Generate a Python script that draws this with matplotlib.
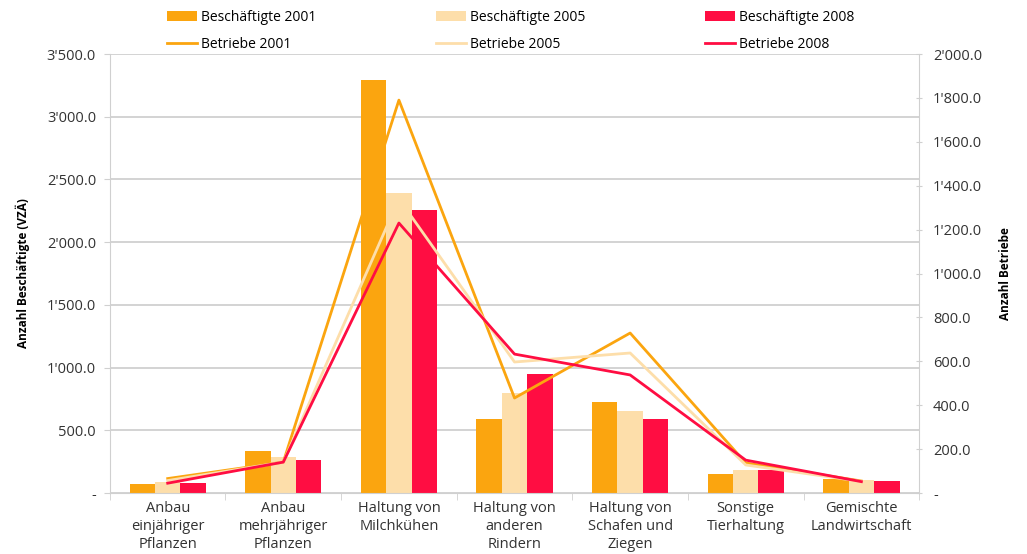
import numpy as np
import matplotlib.pyplot as plt
from matplotlib.ticker import FuncFormatter

plt.rcParams['font.family'] = ['Open Sans', 'DejaVu Sans']

categories = ['Anbau\neinjähriger\nPflanzen', 'Anbau\nmehrjähriger\nPflanzen', 'Haltung von\nMilchkühen',
              'Haltung von\nanderen\nRindern', 'Haltung von\nSchafen und\nZiegen', 'Sonstige\nTierhaltung',
              'Gemischte\nLandwirtschaft']

# Beschaeftigte (VZAe), linke Achse
besch_2001 = [72, 335, 3290, 590, 728, 149, 109]
besch_2005 = [90, 285, 2395, 795, 654, 183, 105]
besch_2008 = [82, 263, 2255, 950, 588, 183, 100]

# Betriebe, rechte Achse
betr_2001 = [66, 141, 1790, 433, 729, 137, 55]
betr_2005 = [57, 141, 1340, 597, 638, 128, 53]
betr_2008 = [45, 141, 1230, 633, 538, 150, 52]

c01 = '#FBA50F'
c05 = '#FDDEAA'
c08 = '#FF0D42'
grey = '#D0D0D0'

def fmt(v, pos):
    if abs(v) < 1e-9:
        return '-'
    return f'{v:,.1f}'.replace(',', "'")

fig = plt.figure(figsize=(10.27, 5.54), dpi=100)
ax = fig.add_axes([0.107, 0.11, 0.788, 0.7925])
ax2 = ax.twinx()

x = np.arange(len(categories))
w = 0.22
ax.bar(x - w, besch_2001, w, color=c01, label='Beschäftigte 2001', zorder=2)
ax.bar(x, besch_2005, w, color=c05, label='Beschäftigte 2005', zorder=2)
ax.bar(x + w, besch_2008, w, color=c08, label='Beschäftigte 2008', zorder=2)

ax2.plot(x, betr_2001, color=c01, lw=2, label='Betriebe 2001')
ax2.plot(x, betr_2005, color=c05, lw=2, label='Betriebe 2005')
ax2.plot(x, betr_2008, color=c08, lw=2, label='Betriebe 2008')

ax.set_xlim(-0.5, len(categories) - 0.5)
ax.set_ylim(0, 3500)
ax2.set_ylim(0, 2000)
ax.set_yticks(np.arange(0, 3501, 500))
ax2.set_yticks(np.arange(0, 2001, 200))
ax.yaxis.set_major_formatter(FuncFormatter(fmt))
ax2.yaxis.set_major_formatter(FuncFormatter(fmt))

ax.set_axisbelow(True)
ax.grid(axis='y', color=grey, lw=1.3)
ax.set_xticks(x)
ax.set_xticklabels(categories, fontsize=10.5, color='#333333', linespacing=1.25)
ax.tick_params(axis='x', length=0, pad=6)
ax.set_xticks(np.arange(-0.5, len(categories)), minor=True)
ax.tick_params(axis='x', which='minor', length=5, color=grey)

for a in (ax, ax2):
    for s in a.spines.values():
        s.set_visible(False)
ax.spines['left'].set_visible(True)
ax.spines['left'].set_color(grey)
ax.spines['bottom'].set_visible(True)
ax.spines['bottom'].set_color(grey)
ax2.spines['right'].set_visible(True)
ax2.spines['right'].set_color(grey)

ax.tick_params(axis='y', length=4, color=grey, labelsize=10.5, labelcolor='#333333', pad=6)
ax2.tick_params(axis='y', length=4, color=grey, labelsize=10.5, labelcolor='#333333', direction='inout', pad=8)

ax.set_ylabel('Anzahl Beschäftigte (VZÄ)', fontsize=8.5, fontweight='bold', labelpad=12)
ax2.set_ylabel('Anzahl Betriebe', fontsize=8.5, fontweight='bold', labelpad=12)

h1, l1 = ax.get_legend_handles_labels()
h2, l2 = ax2.get_legend_handles_labels()
handles = [h1[0], h2[0], h1[1], h2[1], h1[2], h2[2]]
labels = [l1[0], l2[0], l1[1], l2[1], l1[2], l2[2]]
fig.legend(handles, labels, ncol=3, loc='upper center', bbox_to_anchor=(0.497, 1.005), frameon=False,
           fontsize=10, columnspacing=8.6, handlelength=2.2, handletextpad=0.25, labelspacing=0.85)

fig.savefig('out.png', dpi=100)
